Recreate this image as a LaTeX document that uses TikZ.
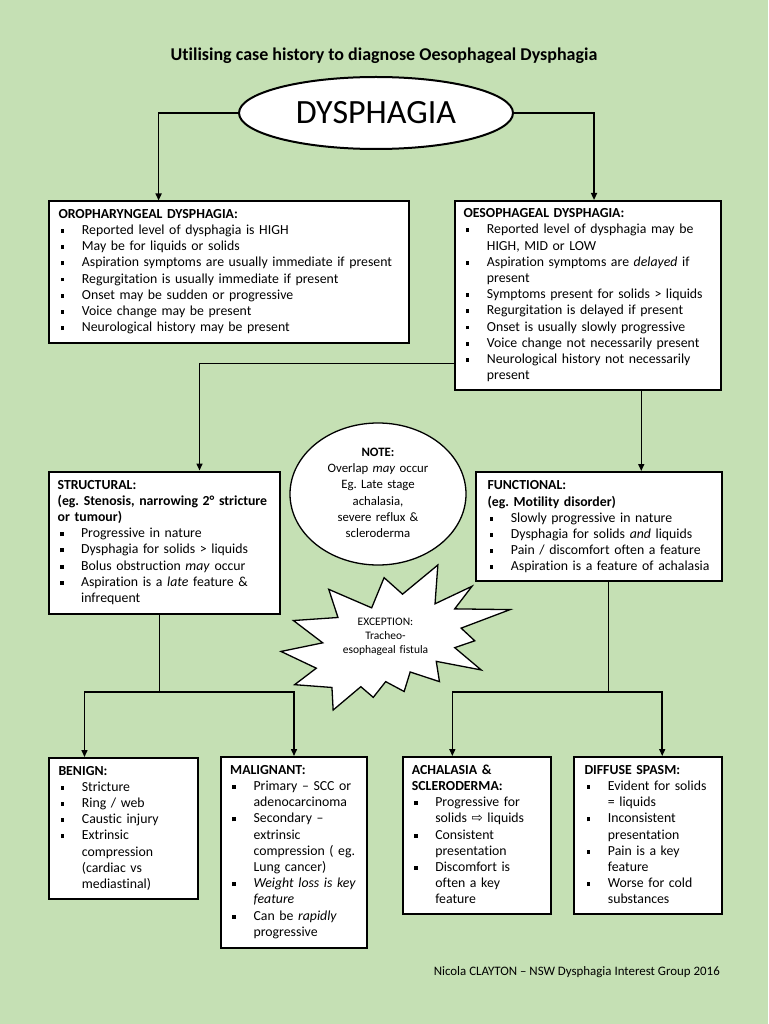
\documentclass[tikz,border=0pt]{standalone}
\usepackage{fontspec}
\setmainfont{Carlito}[Ligatures={TeX,NoCommon}]
\newfontfamily\symf{DejaVu Sans}
\usetikzlibrary{shapes.geometric,arrows.meta,calc}
\definecolor{bg}{HTML}{C5E0B4}
\newcommand\bitem[1]{\par\hangindent=23.4pt\hangafter=1\noindent\makebox[23.4pt][l]{\hspace{2pt}\rule[1.6pt]{3.9pt}{3.9pt}}#1}
\newcommand\btitle[1]{\noindent\textbf{#1}}
\frenchspacing
\begin{document}
\begin{tikzpicture}[x=1pt,y=-1pt,
  box/.style={draw=black, line width=2pt, fill=white, rectangle, inner sep=0pt, anchor=north west},
  txt/.style={anchor=base west, inner sep=0pt, text width=400pt, font=\fontsize{13.8}{16.2}\selectfont\frenchspacing},
  arr/.style={line width=1.5pt, -{Triangle[length=7pt,width=6pt]}},
  ln/.style={line width=1.5pt},
  oval/.style={draw=black, fill=white, ellipse, inner sep=0pt}]
\fill[bg] (0,0) rectangle (768,1024);
\useasboundingbox (0,0) rectangle (768,1024);

% title
\node[anchor=base, inner sep=0pt, font=\bfseries\fontsize{18}{21}\selectfont] (title) at (384,60.8)
  {Utilising case history to diagnose Oesophageal Dysphagia};

% main ellipse
\node[oval, line width=2pt, minimum width=274pt, minimum height=72pt,
      font=\fontsize{34}{37}\selectfont] (dys) at (376,113) {DYSPHAGIA};

% boxes
\node[box, minimum width=360.5pt, minimum height=141pt] (oro) at (47.5,200.5) {};
\node[box, minimum width=265.5pt, minimum height=189pt] (oeso) at (454,200) {};
\node[box, minimum width=231.5pt, minimum height=142pt] (struct) at (47.5,470.5) {};
\node[box, minimum width=246pt, minimum height=109pt] (func) at (475,471) {};
\node[box, minimum width=149pt, minimum height=141pt] (benign) at (47.5,757) {};
\node[box, minimum width=146pt, minimum height=190.5pt] (malig) at (220,756) {};
\node[box, minimum width=148.3pt, minimum height=157pt] (acha) at (401.7,756) {};
\node[box, minimum width=147.7pt, minimum height=157pt] (diff) at (573.3,756) {};

% box texts
\node[txt] (orot) at ($(oro.north west)+(10.8,17.8)$) {%
\btitle{OROPHARYNGEAL DYSPHAGIA:}%
\bitem{Reported level of dysphagia is HIGH}%
\bitem{May be for liquids or solids}%
\bitem{Aspiration symptoms are usually immediate if present}%
\bitem{Regurgitation is usually immediate if present}%
\bitem{Onset may be sudden or progressive}%
\bitem{Voice change may be present}%
\bitem{Neurological history may be present}\par};

\node[txt] (oesot) at ($(oeso.north west)+(9.3,17.6)$) {%
\btitle{OESOPHAGEAL DYSPHAGIA:}%
\bitem{Reported level of dysphagia may be\newline HIGH, MID or LOW}%
\bitem{Aspiration symptoms are \textit{delayed} if\newline present}%
\bitem{Symptoms present for solids > liquids}%
\bitem{Regurgitation is delayed if present}%
\bitem{Onset is usually slowly progressive}%
\bitem{Voice change not necessarily present}%
\bitem{Neurological history not necessarily\newline present}\par};

\node[txt] (structt) at ($(struct.north west)+(10,18.6)$) {%
\btitle{STRUCTURAL:}\newline
\textbf{(eg. Stenosis, narrowing 2° stricture}\newline
\textbf{or tumour)}%
\bitem{Progressive in nature}%
\bitem{Dysphagia for solids > liquids}%
\bitem{Bolus obstruction \textit{may} occur}%
\bitem{Aspiration is a \textit{late} feature \&\newline infrequent}\par};

\node[txt] (funct) at ($(func.north west)+(12.3,18.8)$) {%
\btitle{FUNCTIONAL:}\newline
\textbf{(eg. Motility disorder)}%
\bitem{Slowly progressive in nature}%
\bitem{Dysphagia for solids \textit{and} liquids}%
\bitem{Pain / discomfort often a feature}%
\bitem{Aspiration is a feature of achalasia}\par};

\node[txt] (benignt) at ($(benign.north west)+(10.8,18)$) {%
\btitle{BENIGN:}%
\bitem{Stricture}%
\bitem{Ring / web}%
\bitem{Caustic injury}%
\bitem{Extrinsic\newline compression\newline (cardiac vs\newline mediastinal)}\par};

\node[txt] (maligt) at ($(malig.north west)+(10,18.3)$) {%
\btitle{MALIGNANT:}%
\bitem{Primary – SCC or\newline adenocarcinoma}%
\bitem{Secondary –\newline extrinsic\newline compression ( eg.\newline Lung cancer)}%
\bitem{\textit{Weight loss is key}\newline \textit{feature}}%
\bitem{Can be \textit{rapidly}\newline progressive}\par};

\node[txt] (achat) at ($(acha.north west)+(10,18.3)$) {%
\btitle{ACHALASIA \&}\newline
\textbf{SCLERODERMA:}%
\bitem{Progressive for\newline solids {\symf\fontsize{13.5}{16.2}\selectfont ⇨} liquids}%
\bitem{Consistent\newline presentation}%
\bitem{Discomfort is\newline often a key\newline feature}\par};

\node[txt] (difft) at ($(diff.north west)+(11,18.3)$) {%
\btitle{DIFFUSE SPASM:}%
\bitem{Evident for solids\newline = liquids}%
\bitem{Inconsistent\newline presentation}%
\bitem{Pain is a key\newline feature}%
\bitem{Worse for cold\newline substances}\par};

% note ellipse
\node[oval, line width=1.3pt, minimum width=176pt, minimum height=142pt] (note) at (378,494) {};
\node[anchor=base, inner sep=0pt, text width=170pt, align=center,
      font=\fontsize{12.8}{16.2}\selectfont] (notet) at (378,456.5)
  {\textbf{NOTE:}\\ Overlap \textit{may} occur\\ Eg. Late stage\\ achalasia,\\ severe reflux \&\\ scleroderma};

% exception starburst (explosion shape)
\begin{scope}[shift={(281,565)}, x=0.010602pt, y=-0.0067130pt]
\draw[line width=1.3pt, fill=white, line join=miter]
 (11462,4342) -- (14790,0) -- (14525,5777) -- (18007,3172) -- (16380,6532) -- (21600,6645)
 -- (16985,9402) -- (18270,11290) -- (16380,12310) -- (18877,15632) -- (14640,14350)
 -- (14942,17370) -- (12180,15935) -- (11612,18842) -- (9872,17370) -- (8700,19712)
 -- (7527,18125) -- (4917,21600) -- (4805,18240) -- (1285,17825) -- (3330,15370)
 -- (0,12877) -- (3935,11592) -- (1172,8270) -- (5372,7817) -- (4502,3625)
 -- (8550,6382) -- (9722,1887) -- cycle;
\end{scope}
\node[anchor=base, inner sep=0pt, text width=120pt, align=center,
      font=\fontsize{11.5}{14}\selectfont] (exc) at (385.5,625.4)
  {EXCEPTION:\\ Tracheo-\\ esophageal fistula};

% connectors
\draw[arr] (dys.west) -| ($(oro.north west)!0.3065!(oro.north east)$);
\draw[arr] (dys.east) -| ($(oeso.north west)!0.5235!(oeso.north east)$);
\draw[arr] ($(oeso.north west)!0.857!(oeso.south west)$) -| ($(struct.north west)!0.651!(struct.north east)$);
\coordinate (ob) at ($(oeso.south west)!0.7!(oeso.south east)$);
\draw[arr] (ob) -- (ob |- func.north);

\coordinate (sb) at ($(struct.south west)!0.4786!(struct.south east)$);
\coordinate (sj) at ($(sb)+(0,77.5)$);
\coordinate (bin) at ($(benign.north west)!0.245!(benign.north east)$);
\draw[ln] (sb) -- (sj);
\draw[arr] (sj) -| (bin);
\draw[arr] (sj) -| (malig.north);

\coordinate (fb) at ($(func.south west)!0.539!(func.south east)$);
\coordinate (fj) at ($(fb)+(0,110)$);
\coordinate (ain) at ($(acha.north west)!0.337!(acha.north east)$);
\coordinate (din) at ($(diff.north west)!0.594!(diff.north east)$);
\draw[ln] (fb) -- (fj);
\draw[arr] (fj) -| (ain);
\draw[arr] (fj) -| (din);

% footer
\node[anchor=base east, inner sep=0pt, font=\fontsize{12.9}{15}\selectfont] (foot) at (720,975.8)
  {Nicola CLAYTON – NSW Dysphagia Interest Group 2016};
\end{tikzpicture}
\end{document}
